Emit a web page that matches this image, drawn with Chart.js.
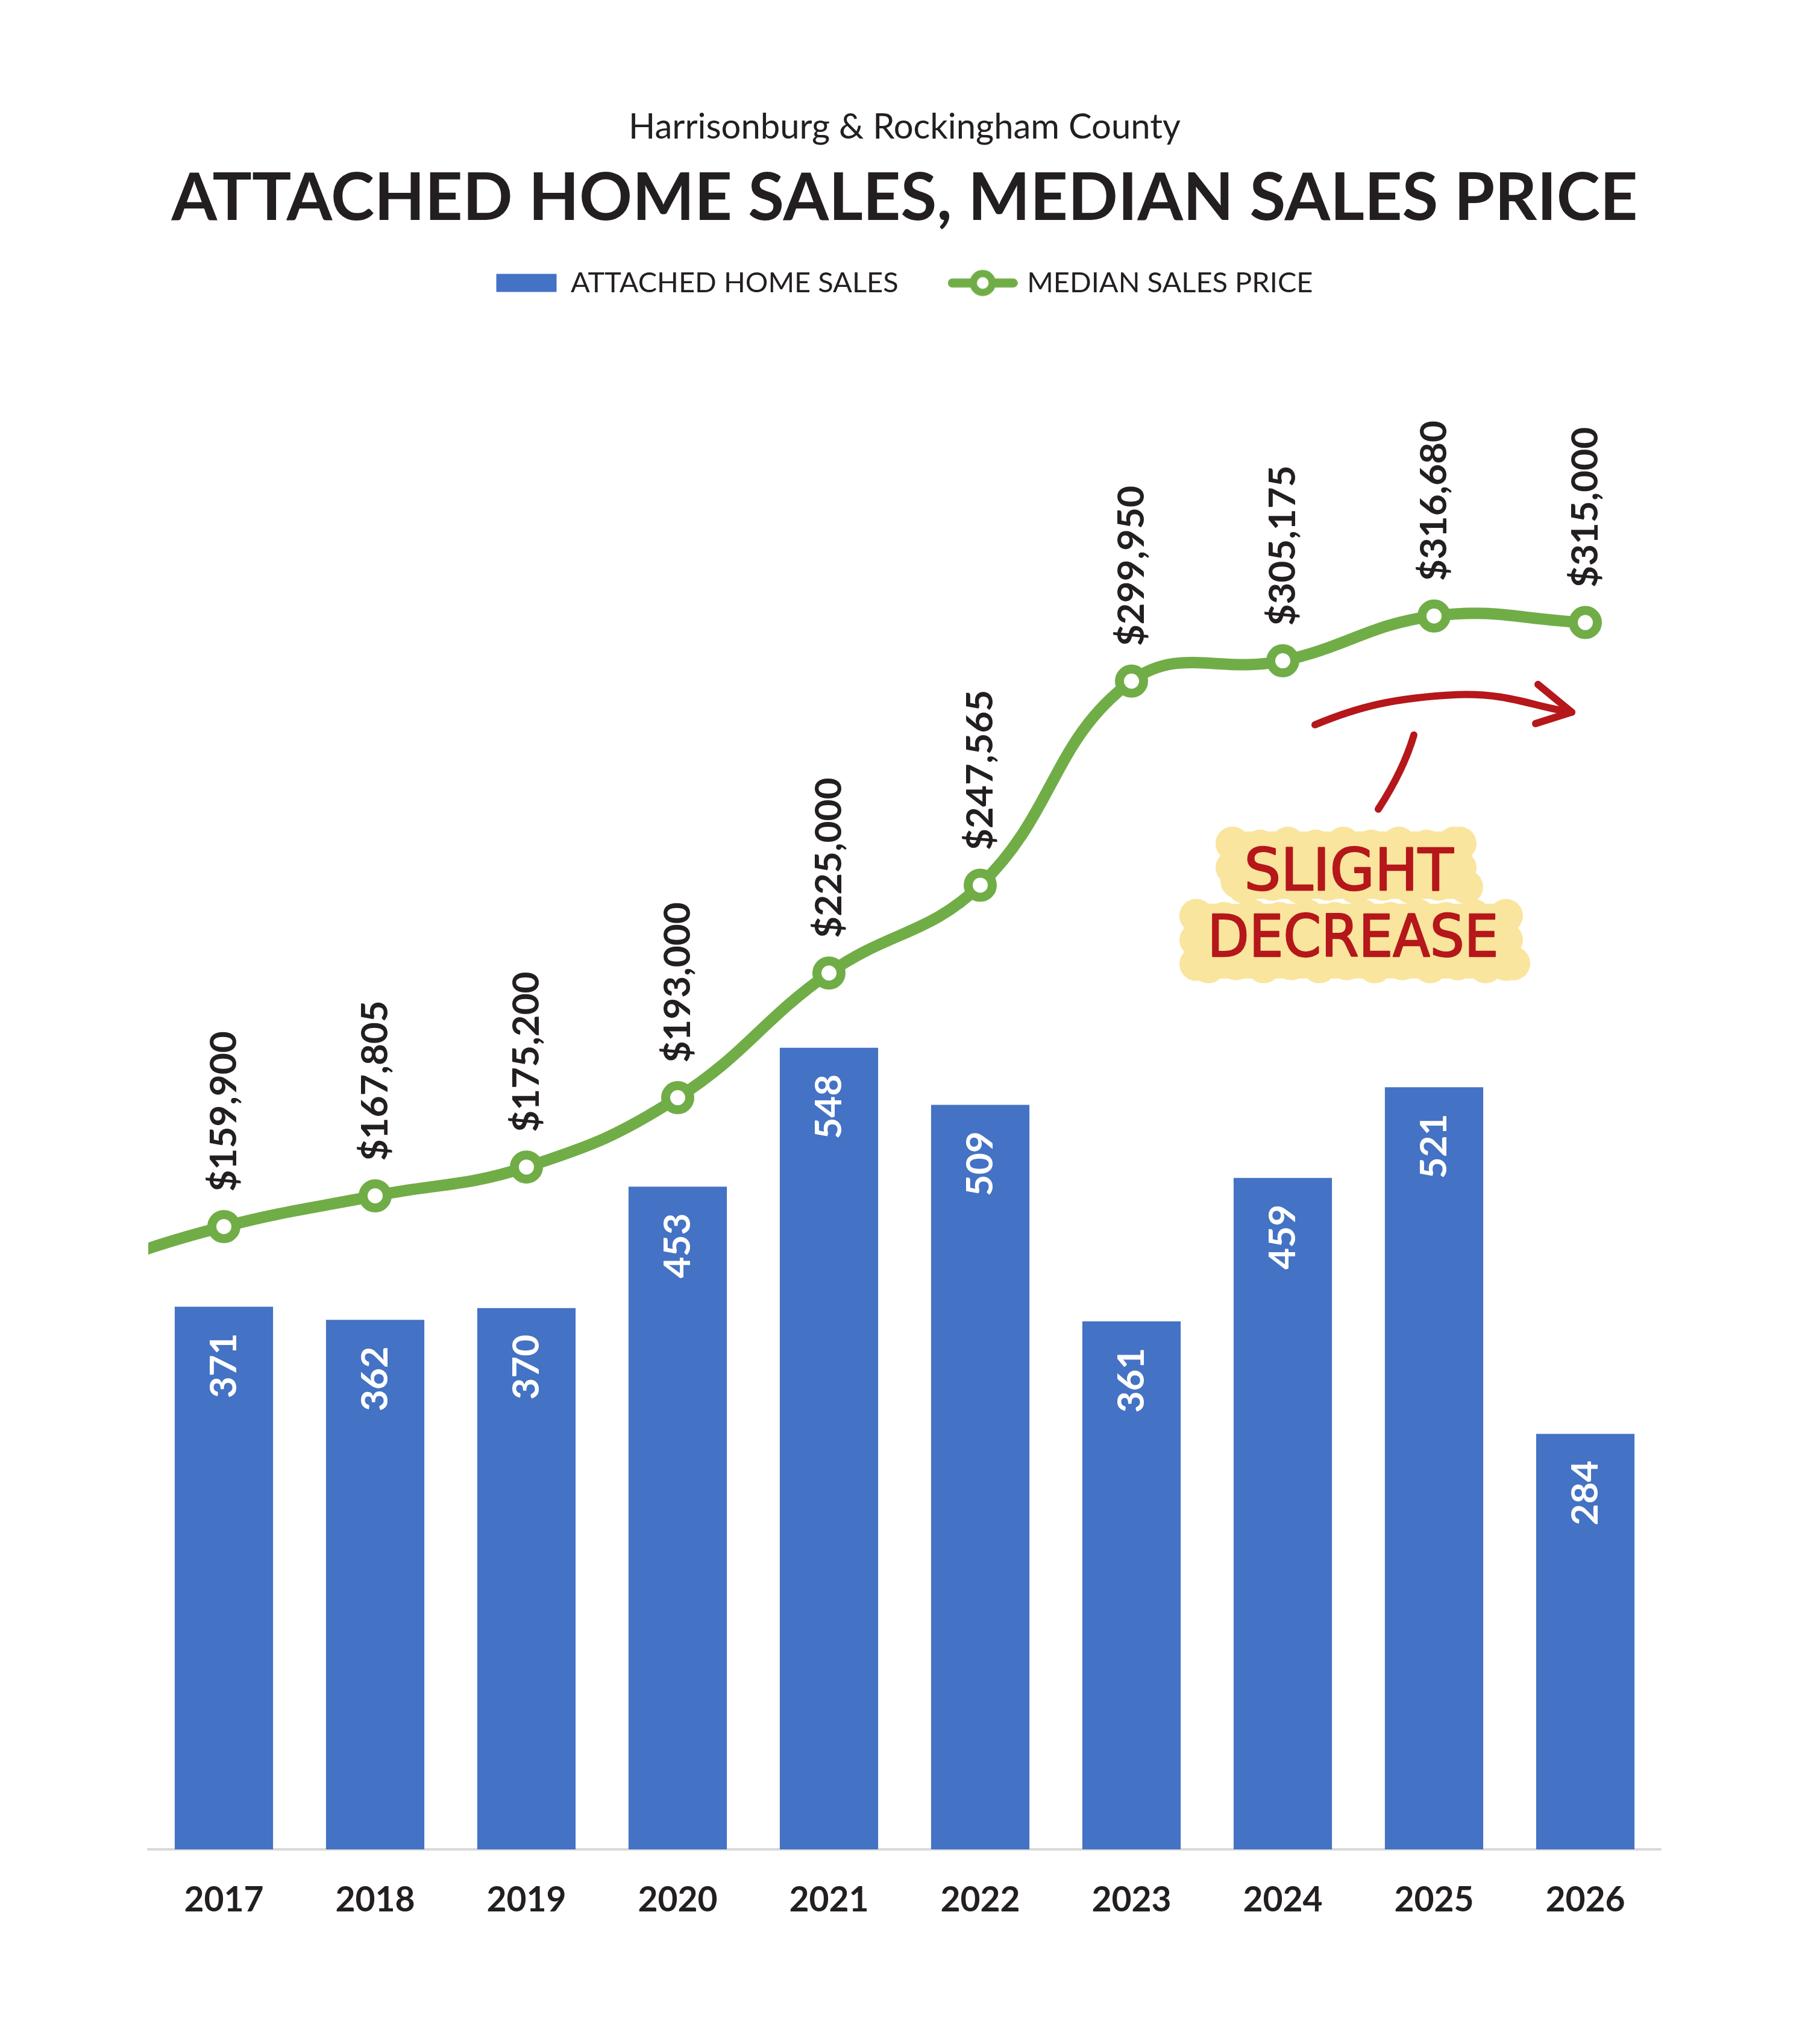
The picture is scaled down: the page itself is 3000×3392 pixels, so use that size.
<!DOCTYPE html>
<html>
<head>
<meta charset="utf-8">
<title>Attached Home Sales, Median Sales Price</title>
<script src="https://cdn.jsdelivr.net/npm/chart.js@4.4.1/dist/chart.umd.min.js"></script>
<style>
  html, body { margin: 0; padding: 0; background: #ffffff; }
  canvas { display: block; }
</style>
</head>
<body>
<canvas id="homeSales" width="3000" height="3392"></canvas>
<script>
(function () {
    "use strict";

    const years = [2017, 2018, 2019, 2020, 2021, 2022, 2023, 2024, 2025, 2026];
    const homeSales = [371, 362, 370, 453, 548, 509, 361, 459, 521, 284];
    // the price line comes in from the left edge, so it carries one earlier year (estimated)
    const priceYears = [2016, 2017, 2018, 2019, 2020, 2021, 2022, 2023, 2024, 2025, 2026];
    const medianPrice = [148000, 159900, 167805, 175200, 193000, 225000, 247565, 299950, 305175, 316680, 315000];

    const textColor = "#231f20";
    const barBlue = "#4472c4";
    const lineGreen = "#70ad47";
    const noteRed = "#b5171b";
    const noteYellow = "#f9e59d";

    // where the hand written note sits (year, price)
    const noteAnchor = { x: 2024.5, y: 240000 };

    function money(v) {
        return "$" + v.toLocaleString("en-US");
    }

    // legend marker for the line series: short line with a hollow dot
    const lineMarker = document.createElement("canvas");
    lineMarker.width = 116;
    lineMarker.height = 46;
    (function () {
        const c = lineMarker.getContext("2d");
        c.strokeStyle = lineGreen;
        c.lineWidth = 15;
        c.lineCap = "round";
        c.beginPath();
        c.moveTo(7.5, 23);
        c.lineTo(108.5, 23);
        c.stroke();
        c.beginPath();
        c.arc(58, 23, 15.7, 0, Math.PI * 2);
        c.fillStyle = "#ffffff";
        c.fill();
        c.lineWidth = 12;
        c.stroke();
    })();

    const valueLabels = {
        id: "valueLabels",
        afterDatasetsDraw: function (chart) {
            const ctx = chart.ctx;
            const area = chart.chartArea;
            ctx.save();
            ctx.font = "bold 62px Lato";
            ctx.textBaseline = "middle";

            chart.getDatasetMeta(0).data.forEach(function (bar, i) {
                ctx.save();
                ctx.translate(bar.x, bar.y + 44);
                ctx.rotate(-Math.PI / 2);
                ctx.textAlign = "right";
                ctx.fillStyle = "#ffffff";
                ctx.fillText(String(homeSales[i]), 0, 0);
                ctx.restore();
            });

            chart.getDatasetMeta(1).data.forEach(function (pt, i) {
                if (pt.x < area.left) {
                    return;
                }
                ctx.save();
                ctx.translate(pt.x, pt.y - 58);
                ctx.rotate(-Math.PI / 2);
                ctx.textAlign = "left";
                ctx.fillStyle = textColor;
                ctx.fillText(money(medianPrice[i]), 0, 0);
                ctx.restore();
            });
            ctx.restore();
        }
    };

    function blob(ctx, x0, y0, x1, y1) {
        const r = 28;
        ctx.beginPath();
        ctx.roundRect(x0 + 8, y0 + 8, x1 - x0 - 16, y1 - y0 - 16, 30);
        ctx.fill();
        let k = 0;
        for (let x = x0 + r; x <= x1 - r + 1; x += 46) {
            const j = (k++ % 2) * 5;
            ctx.beginPath();
            ctx.arc(x, y0 + r + j, r, 0, Math.PI * 2);
            ctx.arc(x + 20, y1 - r - j, r, 0, Math.PI * 2);
            ctx.fill();
        }
        for (let y = y0 + r; y <= y1 - r + 1; y += 40) {
            ctx.beginPath();
            ctx.arc(x0 + r, y, r, 0, Math.PI * 2);
            ctx.fill();
            ctx.beginPath();
            ctx.arc(x1 - r, y, r, 0, Math.PI * 2);
            ctx.fill();
        }
    }

    function drawWord(ctx, text, cx, cy, width) {
        ctx.save();
        ctx.font = "96px 'DejaVu Sans'";
        const w = ctx.measureText(text).width;
        ctx.translate(cx, cy);
        ctx.scale(width / w, 1);
        ctx.textAlign = "center";
        ctx.textBaseline = "middle";
        ctx.fillStyle = noteRed;
        ctx.strokeStyle = noteRed;
        ctx.lineWidth = 2.5;
        ctx.lineJoin = "round";
        ctx.fillText(text, 0, 0);
        ctx.strokeText(text, 0, 0);
        ctx.restore();
    }

    const slightDecrease = {
        id: "slightDecrease",
        afterDraw: function (chart) {
            const ctx = chart.ctx;
            const ax = chart.scales.x.getPixelForValue(noteAnchor.x);
            const ay = chart.scales.y1.getPixelForValue(noteAnchor.y);
            ctx.save();
            ctx.translate(ax, ay);

            ctx.fillStyle = noteYellow;
            blob(ctx, -237, -146, 196, -18);
            blob(ctx, -297, -26, 273, 114);

            ctx.strokeStyle = noteRed;
            ctx.lineWidth = 12;
            ctx.lineCap = "round";
            ctx.lineJoin = "round";
            ctx.beginPath();
            ctx.moveTo(-72, -315);
            ctx.bezierCurveTo(0, -345, 60, -360, 165, -365);
            ctx.bezierCurveTo(250, -368, 290, -345, 354, -336);
            ctx.stroke();
            ctx.beginPath();
            ctx.moveTo(298, -382);
            ctx.lineTo(354, -336);
            ctx.lineTo(294, -317);
            ctx.stroke();
            ctx.beginPath();
            ctx.moveTo(92, -298);
            ctx.quadraticCurveTo(75, -240, 33, -175);
            ctx.stroke();

            drawWord(ctx, "SLIGHT", -16, -66, 347);
            drawWord(ctx, "DECREASE", -9, 44, 483);
            ctx.restore();
        }
    };

    const ctx = document.getElementById("homeSales").getContext("2d");
    new Chart(ctx, {
        type: "bar",
        data: {
            datasets: [
                {
                    type: "bar",
                    label: "ATTACHED HOME SALES",
                    data: years.map(function (y, i) { return { x: y, y: homeSales[i] }; }),
                    backgroundColor: barBlue,
                    yAxisID: "y",
                    categoryPercentage: 1,
                    barPercentage: 0.65,
                    order: 1
                },
                {
                    type: "line",
                    label: "MEDIAN SALES PRICE",
                    data: priceYears.map(function (y, i) { return { x: y, y: medianPrice[i] }; }),
                    borderColor: lineGreen,
                    borderWidth: 19,
                    tension: 0.42,
                    capBezierPoints: false,
                    pointRadius: 20,
                    pointBorderWidth: 15,
                    pointBackgroundColor: "#ffffff",
                    pointBorderColor: lineGreen,
                    yAxisID: "y1",
                    clip: { left: 0, top: false, right: false, bottom: false },
                    order: 0
                }
            ]
        },
        options: {
            responsive: false,
            animation: false,
            devicePixelRatio: 1,
            events: [],
            layout: {
                padding: { top: 176, left: 246, right: 244, bottom: 154.6 }
            },
            scales: {
                x: {
                    type: "linear",
                    min: 2016.5,
                    max: 2026.5,
                    offset: false,
                    afterBuildTicks: function (axis) {
                        axis.ticks = years.map(function (v) { return { value: v }; });
                    },
                    ticks: {
                        callback: function (value) { return String(value); },
                        autoSkip: false,
                        maxRotation: 0,
                        padding: 50,
                        color: textColor,
                        font: { family: "Lato", size: 57, weight: "bold", lineHeight: 1.2 }
                    },
                    grid: { display: false, drawTicks: false },
                    border: { color: "#d9d9d9", width: 4 }
                },
                y: { display: false, min: 0, max: 1057 },
                y1: { display: false, position: "right", min: 0, max: 397000 }
            },
            plugins: {
                tooltip: { enabled: false },
                subtitle: {
                    display: true,
                    text: "Harrisonburg & Rockingham County",
                    color: textColor,
                    font: { family: "Lato", size: 58, lineHeight: 1.2 },
                    padding: { top: 0, bottom: 0 },
                    weight: 3000
                },
                title: {
                    display: true,
                    text: "ATTACHED HOME SALES, MEDIAN SALES PRICE",
                    color: textColor,
                    font: { family: "Lato", size: 109, weight: "bold", lineHeight: 1.2 },
                    padding: { top: 18.6, bottom: -38.9 }
                },
                legend: {
                    labels: {
                        usePointStyle: true,
                        pointStyleWidth: 100,
                        boxHeight: 30,
                        padding: 90,
                        color: textColor,
                        font: { family: "Lato", size: 47 },
                        generateLabels: function (chart) {
                            const items = Chart.defaults.plugins.legend.labels.generateLabels(chart);
                            items.sort(function (a, b) { return a.datasetIndex - b.datasetIndex; });
                            items.forEach(function (item) {
                                item.pointStyle = item.datasetIndex === 0 ? "rect" : lineMarker;
                            });
                            return items;
                        }
                    }
                }
            }
        },
        plugins: [valueLabels, slightDecrease]
    });
})();
</script>
</body>
</html>
